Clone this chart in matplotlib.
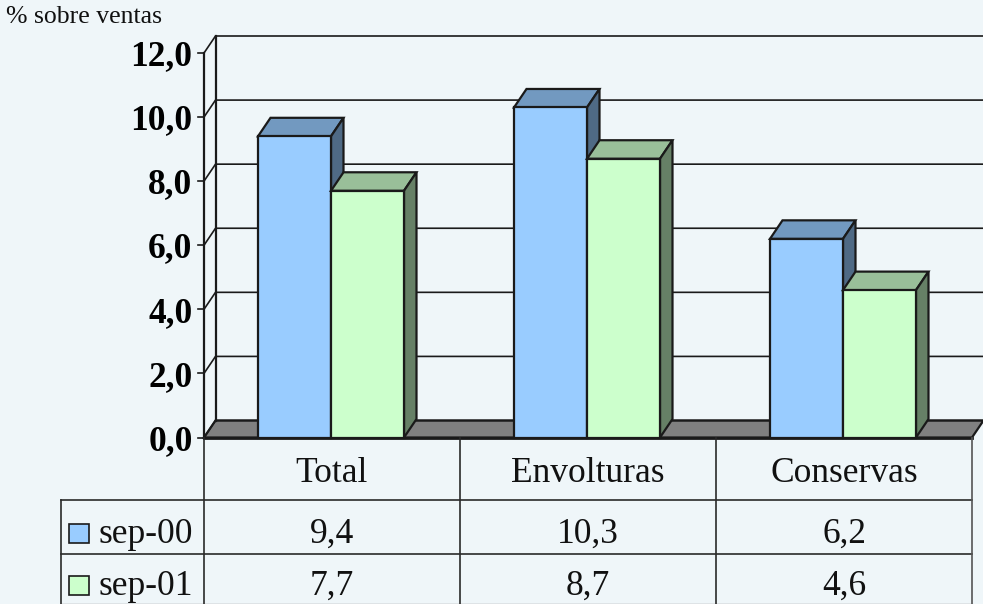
import matplotlib
matplotlib.use("Agg")
import matplotlib.pyplot as plt
from matplotlib.patches import Polygon, Rectangle

categories = ["Total", "Envolturas", "Conservas"]
series_names = ["sep-00", "sep-01"]
sep00 = [9.4, 10.3, 6.2]
sep01 = [7.7, 8.7, 4.6]
yticks = [0, 2, 4, 6, 8, 10, 12]

W, H = 983, 604
BG = "#EFF6F9"
INK = "#1a1a1a"
front = ["#99CCFF", "#CCFFCC"]
top = ["#7299C0", "#99BF99"]
side = ["#4F6A85", "#668066"]

plt.rcParams["font.family"] = ["Liberation Serif", "DejaVu Serif"]
fig = plt.figure(figsize=(W / 100, H / 100), dpi=100, facecolor=BG)
L, R, Y0, Y12 = 204, 972, 437.5, 53
ax = fig.add_axes([L / W, 1 - Y0 / H, (R - L) / W, (Y0 - Y12) / H])
ax.set_xlim(0, 3)
ax.set_ylim(0, 12)
ax.axis("off")
ax.patch.set_alpha(0)

px = 3 / (R - L)
py = 12 / (Y0 - Y12)
wall_dx, wall_dy = 11.5 * px, 17 * py
bar_dx, bar_dy = 12.5 * px, 18.5 * py
bar_w, bar_off = 73 * px, 54 * px
LW = 1.6


def line(xs, ys, lw=LW, color=INK, z=2):
    ax.plot(xs, ys, color=color, lw=lw, solid_capstyle="projecting", clip_on=False, zorder=z)


ax.add_patch(Polygon([(0, 0), (wall_dx, wall_dy), (3 + wall_dx, wall_dy), (3, 0)], closed=True,
                     fc="#808080", ec=INK, lw=LW, clip_on=False, zorder=1))
for t in yticks:
    line([0, wall_dx, 3 + wall_dx], [t, t + wall_dy, t + wall_dy], lw=1.2)
    line([-6 * px, 0], [t, t], lw=1.2)
line([wall_dx, wall_dx], [wall_dy, 12 + wall_dy])
line([0, 0], [0, 12])

for c in range(len(categories)):
    for s, values in enumerate([sep00, sep01]):
        v = values[c]
        x0 = c + bar_off + s * bar_w
        z = 3 + c * 2 + s * 0.5
        ax.bar(x0, v, bar_w, align="edge", color=front[s], edgecolor=INK, lw=LW, zorder=z + 0.1, clip_on=False)
        ax.add_patch(Polygon([(x0, v), (x0 + bar_dx, v + bar_dy), (x0 + bar_w + bar_dx, v + bar_dy), (x0 + bar_w, v)],
                             closed=True, fc=top[s], ec=INK, lw=LW, zorder=z, clip_on=False))
        ax.add_patch(Polygon([(x0 + bar_w, 0), (x0 + bar_w + bar_dx, bar_dy), (x0 + bar_w + bar_dx, v + bar_dy), (x0 + bar_w, v)],
                             closed=True, fc=side[s], ec=INK, lw=LW, zorder=z, clip_on=False))

line([0, 3], [0, 0], lw=2, z=20)

for t in yticks:
    ax.text(-11.5 * px, t - 12.3 * py, f"{t:.1f}".replace(".", ","), ha="right", va="baseline", fontsize=25.5,
            fontweight="bold", color="black", clip_on=False)

row1, row2, row3 = (437.5 - 499.5) * py, (437.5 - 554) * py, (437.5 - 603.5) * py
tx_left = (61 - L) * px
grid_col = "#2a2a2a"
for i in range(4):
    line([i, i], [0, row3], lw=1.2, color=grid_col if i < 3 else "#555555", z=21)
line([tx_left, 3], [row1, row1], lw=1.2, color=grid_col)
line([tx_left, 3], [row2, row2], lw=1.2, color=grid_col)
line([tx_left, 3], [row3, row3], lw=1.0, color="#999999", z=1)
line([tx_left, tx_left], [row1, row3], lw=1.2, color=grid_col)

cat_y = (437.5 - 481.5) * py
r1_y = (437.5 - 543) * py
r2_y = (437.5 - 595) * py
FS = 25.5
for c, name in enumerate(categories):
    ax.text(c + 0.5, cat_y, name, ha="center", va="baseline", fontsize=FS, color="#111111")
    ax.text(c + 0.5, r1_y, f"{sep00[c]:.1f}".replace(".", ","), ha="center", va="baseline", fontsize=FS, color="#111111")
    ax.text(c + 0.5, r2_y, f"{sep01[c]:.1f}".replace(".", ","), ha="center", va="baseline", fontsize=FS, color="#111111")

sw_y = [(437.5 - 543) * py, (437.5 - 594.5) * py]
for s, (name, y) in enumerate(zip(series_names, [r1_y, r2_y])):
    ax.add_patch(Rectangle(((69 - L) * px, sw_y[s]), 20 * px, 19 * py, fc=front[s], ec=INK, lw=1.2, clip_on=False, zorder=5))
    ax.text((99 - L) * px, y, name, ha="left", va="baseline", fontsize=FS, color="#111111")

fig.text(6 / W, 1 - 23 / H, "% sobre ventas", ha="left", va="baseline", fontsize=18.5, color="#111111")

fig.savefig("out.png", dpi=100, facecolor=BG)
